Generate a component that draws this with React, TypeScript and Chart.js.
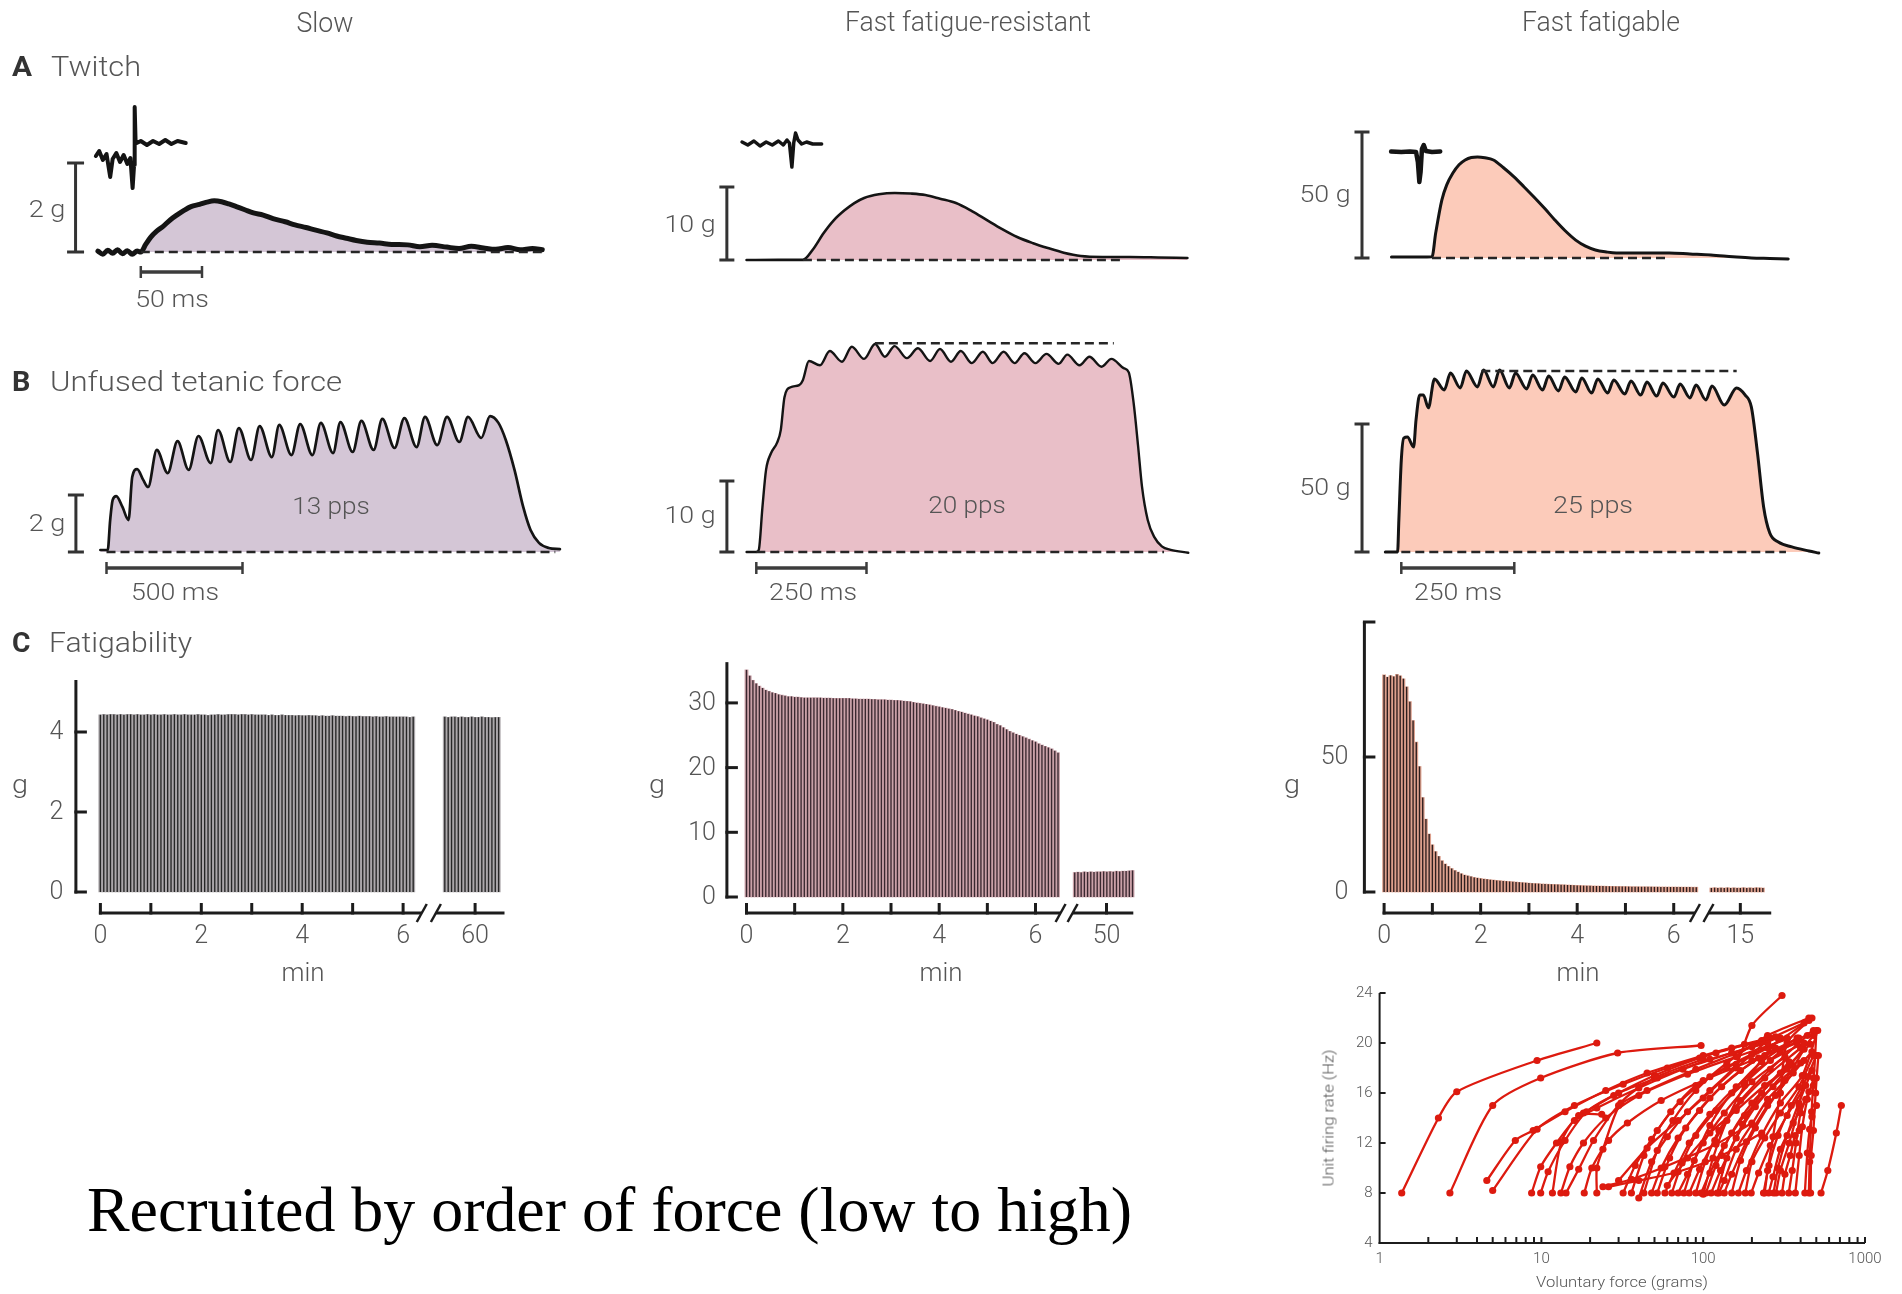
import React, { useEffect, useRef } from "react";
import { Chart, registerables } from "chart.js";

Chart.register(...registerables);

const W = 1902;
const H = 1294;

/* ============================ TEXT ============================ */
const columnTitles = ["Slow", "Fast fatigue-resistant", "Fast fatigable"];
const rowLetters = ["A", "B", "C"];
const rowTitles = ["Twitch", "Unfused tetanic force", "Fatigability"];
const forceScaleLabels = ["2 g", "10 g", "50 g"];
const twitchTimeLabel = "50 ms";
const tetanusTimeLabels = ["500 ms", "250 ms", "250 ms"];
const stimulationRates = ["13 pps", "20 pps", "25 pps"];
const fatigueYTitle = "g";
const fatigueXTitle = "min";
const caption = "Recruited by order of force (low to high)";
const recruitXTitle = "Voluntary force (grams)";
const recruitYTitle = "Unit firing rate (Hz)";

/* ===================== CALIBRATION BARS ===================== */
const forceScaleG = [2, 10, 50];
const twitchScaleMs = 50;
const tetanusScaleMs = [500, 250, 250];

/* ================= A: twitch traces [ms, g] ================= */
const twitchSlow = [
  [-35, 0.02], [-31, -0.05], [-27, 0.04], [-23, -0.03], [-19, 0.05], [-15, -0.04], [-11, 0.03], [-7, -0.05],
  [-3, 0.02], [0, 0.0], [4, 0.17], [8, 0.33], [13, 0.47], [18, 0.57], [24, 0.72], [30, 0.84], [35, 0.93],
  [41, 1.02], [48, 1.07], [54, 1.12], [60, 1.15], [66, 1.13], [72, 1.08], [78, 1.02], [85, 0.95], [92, 0.88],
  [100, 0.83], [108, 0.75], [118, 0.68], [126, 0.61], [135, 0.55], [143, 0.49], [152, 0.43], [160, 0.36],
  [168, 0.31], [176, 0.26], [185, 0.22], [195, 0.2], [205, 0.17], [218, 0.16], [228, 0.12], [238, 0.15],
  [250, 0.11], [260, 0.08], [270, 0.13], [280, 0.09], [290, 0.06], [300, 0.1], [310, 0.05], [320, 0.08], [328, 0.05],
];
const twitchFastResistant = [
  [-46, 0], [-20, 0.02], [0, 0.02], [8, 1.4], [17, 3.7], [25, 5.4], [34, 6.8], [42, 7.8], [50, 8.5], [62, 9.0],
  [75, 9.18], [88, 9.1], [100, 8.9], [112, 8.4], [125, 7.8], [138, 6.7], [150, 5.5], [162, 4.3], [175, 3.15],
  [188, 2.3], [200, 1.64], [213, 1.0], [227, 0.55], [245, 0.42], [267, 0.41], [290, 0.35], [314, 0.27],
];
const twitchFastFatigable = [
  [-33, 0.4], [-10, 0.4], [0, 0.5], [3, 9.9], [8, 23], [12, 29], [17, 33.7], [22, 37], [27, 38.9], [32, 39.9],
  [37, 40.1], [43, 39.8], [50, 38.9], [58, 35.9], [67, 32.1], [75, 28.2], [83, 24.2], [92, 19.5], [100, 15.1],
  [108, 11.0], [117, 7.1], [125, 4.7], [133, 3.2], [142, 2.4], [150, 2.0], [170, 2.0], [193, 2.0], [210, 1.6],
  [227, 1.2], [245, 0.5], [260, 0], [275, -0.2], [290, -0.4],
];

/* ========== A insets: motor-unit action potentials [ms, a.u.] ========== */
const apSlow = [
  [-36.7, -0.6], [-34, -0.1], [-31, -1.0], [-28, -0.4], [-25, -2.7], [-23, -0.9], [-20, -0.3], [-17, -1.2],
  [-14, -0.5], [-11, -1.4], [-8.5, -0.8], [-6.7, -3.8], [-5.5, -1.5], [-5, 4.3], [-4.3, 1.0], [-3.3, 0.7],
  [0, 0.9], [5, 0.5], [10, 0.9], [15, 0.6], [20, 1.0], [25, 0.6], [30, 0.9], [36.7, 0.7],
];
const apFastResistant = [
  [-49.7, 0.1], [-45, -0.2], [-40, 0.2], [-35, -0.3], [-30, 0.1], [-25, -0.2], [-20, 0.2], [-16, -0.2],
  [-13, 0.3], [-11, 0.0], [-9, -2.4], [-7.5, 0.0], [-6, 1.0], [-4, 0.3], [-1, -0.1], [3, 0.1], [8, -0.1], [15.3, -0.1],
];
const apFastFatigable = [
  [-33.3, 0.05], [-25, 0.0], [-18, 0.05], [-13, 0.0], [-11.5, -1.0], [-10.3, -3.0], [-9.3, -2.0], [-8.2, 0.3],
  [-6.7, 0.7], [-5, 0.1], [0, 0], [6.7, 0.05],
];

/* ============== B: unfused tetanus traces [ms, g] ============== */
const tetanusSlow = [
  [-22.5, 0.07], [4.5, 0.07], [13.5, 1.12], [22.5, 1.82], [36, 1.96], [58.6, 1.58], [81, 1.12], [94.6, 2.63],
  [112.6, 2.91], [135, 2.53], [153, 2.28], [184.7, 3.58], [225, 2.77], [261, 3.89], [302, 2.88], [338, 4.07],
  [383, 3.12], [410, 4.28], [455, 3.16], [486.5, 4.35], [531.5, 3.23], [563, 4.42], [608, 3.33], [635, 4.46],
  [680, 3.4], [712, 4.49], [757, 3.4], [788, 4.53], [833, 3.47], [860, 4.56], [905, 3.51], [937, 4.6],
  [982, 3.58], [1014, 4.67], [1059, 3.65], [1095, 4.7], [1140, 3.68], [1171, 4.74], [1216, 3.75], [1252, 4.74],
  [1297, 3.86], [1329, 4.74], [1378, 4.0], [1410, 4.77], [1441, 4.53], [1468, 3.93], [1500, 2.88], [1532, 1.58],
  [1559, 0.77], [1590, 0.32], [1626, 0.14], [1667, 0.1],
];
const tetanusFastResistant = [
  [-22, 0], [0, 0], [5.6, 0.3], [13.9, 6.3], [22.2, 11.6], [33.3, 13.9], [47.2, 15.4], [55.6, 17.2], [63.9, 21.8],
  [77.8, 23.2], [97.2, 23.5], [105.6, 24.2], [119.4, 26.9], [144.4, 26.3], [166.7, 28.3], [194.4, 26.8],
  [216.7, 28.9], [244.4, 27.2], [269.4, 29.3], [291.7, 27.5], [313.9, 29.0], [341.7, 27.3], [366.7, 28.7],
  [394.4, 26.9], [416.7, 28.6], [441.7, 26.8], [463.9, 28.3], [488.9, 26.6], [513.9, 28.2], [536.1, 26.6],
  [561.1, 28.2], [586.1, 26.6], [608.3, 28.0], [633.3, 26.6], [658.3, 27.9], [686.1, 26.5], [705.6, 27.8],
  [733.3, 26.3], [755.6, 27.5], [783.3, 26.1], [805.6, 27.2], [833.3, 25.9], [845, 25.3], [856, 21.0],
  [866, 15.0], [875, 9.2], [888, 4.5], [903, 2.1], [920, 0.8], [940, 0.3], [980, -0.1],
];
const tetanusFastFatigable = [
  [-35.3, 0], [-8.2, 0], [-5.4, 12.5], [0, 35.9], [5.4, 44.5], [13.6, 44.9], [27.2, 41.0], [32.6, 51.6],
  [40.8, 61.3], [48.9, 61.3], [59.8, 56.3], [73.4, 67.6], [95.1, 63.3], [108.7, 69.9], [130.4, 64.1], [144, 70.7],
  [168.5, 64.5], [182, 71.1], [203.8, 64.5], [217.4, 71.1], [239.1, 64.1], [252.7, 69.9], [277.1, 63.7],
  [290.7, 69.1], [312.5, 63.3], [326, 68.75], [347.8, 62.9], [361.4, 68.4], [385.8, 62.5], [399.4, 68.0],
  [421.1, 62.1], [434.7, 67.6], [456.5, 62.1], [470.1, 67.2], [494.5, 61.7], [508.1, 66.8], [529.8, 61.3],
  [543.4, 66.4], [565.2, 60.9], [578.7, 66.0], [603.2, 60.5], [616.8, 65.6], [638.5, 60.2], [652.1, 65.2],
  [673.9, 59.4], [687.4, 64.8], [714.6, 57.4], [741.8, 64.1], [760.9, 61.3], [774.5, 56.6], [788, 38.7],
  [801.6, 17.6], [815.2, 7.4], [834.2, 3.9], [864, 2.0], [902, 0.4], [923.7, -0.4],
];
const tetanusPeakFR = 29.4;
const tetanusPeakFF = 70.7;
const tetanusPeakSpanFR = [269, 811];
const tetanusPeakSpanFF = [177, 742];

/* ============== C: fatigue test, peak force per contraction (g) ============== */
const fatigueInterval = 1 / 15; // minutes between plotted contractions
const fatigueSlowEarly = [
  4.43, 4.44, 4.43, 4.44, 4.44, 4.43, 4.44, 4.43, 4.44, 4.44,
  4.43, 4.44, 4.43, 4.43, 4.44, 4.43, 4.44, 4.43, 4.43, 4.44,
  4.43, 4.43, 4.44, 4.43, 4.43, 4.44, 4.43, 4.43, 4.43, 4.44,
  4.43, 4.43, 4.42, 4.43, 4.43, 4.44, 4.43, 4.43, 4.44, 4.44,
  4.44, 4.43, 4.44, 4.44, 4.43, 4.44, 4.43, 4.43, 4.43, 4.43,
  4.42, 4.43, 4.42, 4.42, 4.43, 4.42, 4.42, 4.42, 4.41, 4.42,
  4.41, 4.41, 4.42, 4.41, 4.41, 4.4, 4.41, 4.4, 4.4, 4.41,
  4.4, 4.4, 4.4, 4.39, 4.4, 4.39, 4.39, 4.4, 4.39, 4.39,
  4.39, 4.38, 4.39, 4.38, 4.38, 4.39, 4.38, 4.38, 4.38, 4.38,
  4.38, 4.38, 4.37, 4.38,
];
const fatigueSlowLate = [4.38, 4.37, 4.38, 4.38, 4.37, 4.38, 4.37, 4.37, 4.38, 4.37, 4.37, 4.38, 4.37, 4.37, 4.36, 4.37, 4.37];
const fatigueFREarly = [
  35.1, 34.2, 33.5, 33.0, 32.6, 32.3, 32.0, 31.8, 31.6, 31.5,
  31.3, 31.2, 31.1, 31.0, 31.0, 30.9, 30.9, 30.85, 30.8, 30.8,
  30.8, 30.8, 30.8, 30.8, 30.75, 30.75, 30.75, 30.7, 30.7, 30.7,
  30.7, 30.7, 30.7, 30.65, 30.65, 30.6, 30.6, 30.6, 30.6, 30.55,
  30.55, 30.5, 30.5, 30.5, 30.45, 30.45, 30.4, 30.4, 30.35, 30.3,
  30.25, 30.2, 30.1, 30.0, 29.95, 29.85, 29.8, 29.7, 29.6, 29.5,
  29.4, 29.3, 29.2, 29.1, 29.0, 28.85, 28.7, 28.6, 28.45, 28.3,
  28.15, 28.0, 27.9, 27.7, 27.55, 27.4, 27.2, 27.0, 26.7, 26.5,
  26.2, 25.9, 25.6, 25.4, 25.2, 25.0, 24.8, 24.6, 24.4, 24.2,
  24.0, 23.7, 23.5, 23.3, 23.1, 22.9, 22.6, 22.3,
];
const fatigueFRLate = [3.8, 3.85, 3.8, 3.9, 3.85, 3.9, 3.85, 3.9, 3.9, 3.95, 3.9, 3.95, 3.9, 4.0, 3.95, 4.0, 4.0, 4.05, 4.1];
const fatigueFFEarly = [
  80.4, 79.6, 80.2, 79.8, 80.6, 80.1, 79.0, 76.0, 70.5, 63.5,
  55.5, 46.5, 35.0, 27.0, 21.5, 17.5, 15.0, 13.2, 11.6, 10.4,
  9.5, 8.7, 8.0, 7.4, 6.8, 6.3, 6.0, 5.7, 5.4, 5.2,
  5.0, 4.85, 4.7, 4.55, 4.45, 4.3, 4.2, 4.1, 4.0, 3.9,
  3.8, 3.7, 3.6, 3.5, 3.4, 3.3, 3.2, 3.15, 3.1, 3.0,
  2.95, 2.9, 2.85, 2.8, 2.75, 2.7, 2.65, 2.6, 2.55, 2.5,
  2.45, 2.4, 2.35, 2.3, 2.28, 2.25, 2.22, 2.2, 2.18, 2.15,
  2.12, 2.1, 2.08, 2.06, 2.05, 2.03, 2.0, 1.98, 1.97, 1.95,
  1.94, 1.93, 1.92, 1.9, 1.9, 1.89, 1.88, 1.87, 1.86, 1.85,
  1.85, 1.84, 1.83, 1.82, 1.82, 1.81, 1.8, 1.8,
];
const fatigueFFLate = [1.5, 1.6, 1.5, 1.55, 1.5, 1.6, 1.5, 1.55, 1.5, 1.5, 1.6, 1.5, 1.55, 1.5, 1.6, 1.55, 1.5];
const fatigueLateStart = [59.4, 49.34, 14.4]; // min, first contraction after the axis break
const fatigueXTicks = [0, 1, 2, 3, 4, 5, 6];
const fatigueXTickLabels = ["0", "", "2", "", "4", "", "6"];
const fatigueLateTicks = [60, 50, 15];
const fatigueYTicks = [[0, 2, 4], [0, 10, 20, 30], [0, 50, 100]];
const fatigueYTickLabels = [["0", "2", "4"], ["0", "10", "20", "30"], ["0", "50", ""]];
const fatigueYTop = [5.3, 36.3, 100];

/* ============ D: firing rate vs voluntary force, one series per unit [g, Hz] ============ */
const recruitmentUnits = [
  [[1.37, 8], [2.31, 14], [3.0, 16.1], [9.4, 18.6], [22, 20]],
  [[2.72, 8], [5.0, 15], [9.9, 17.2], [29.6, 19.2], [97, 19.8]],
  [[4.6, 9], [6.9, 12.2], [8.9, 13], [14, 14.5], [25, 16.2], [45, 17.6], [100, 19.0], [180, 19.9], [280, 20.5]],
  [[5.0, 8.2], [9.4, 13.1], [16, 15.0], [32, 16.7], [60, 18.0], [120, 19.2], [230, 20.2]],
  [[8.7, 8], [9.9, 10.1], [12.4, 12.0], [16, 13.8], [22, 14.8], [40, 16.4], [75, 17.9], [150, 19.2], [290, 20.4]],
  [[9.9, 8], [11, 9.7], [14, 12.2], [19, 14.5], [30, 16.0], [52, 17.2], [110, 18.7], [250, 20.0]],
  [[11.7, 8], [13.3, 12.1], [17, 14.2], [23.6, 14.3]],
  [[13.2, 8], [15, 10.1], [18.2, 12.0], [25, 14.0], [40, 15.8], [80, 17.5], [160, 18.9], [330, 20.3]],
  [[14.2, 8], [17, 9.9], [21, 12.2], [30, 15.0], [45, 16.2], [90, 17.9], [200, 19.7], [420, 21.6]],
  [[18.4, 8], [20.5, 10.0], [26, 12.2], [34, 13.6], [55, 15.4], [100, 17.0], [200, 18.6], [380, 20.0]],
  [[22, 8], [22, 10], [24, 11.5], [31, 15.2], [50, 17.2], [100, 18.7]],
  [[24, 8.5], [36, 9.1], [58, 10.1], [120, 11.9], [200, 13.6]],
  [[32, 8], [38, 10.2], [48, 12.3], [63, 14.5], [90, 16.6], [140, 18.0], [250, 19.6], [450, 21.8]],
  [[36, 8], [43, 11.0], [52, 13.0], [72, 15.3], [110, 17.3], [200, 19.1], [330, 20.4]],
  [[40, 7.6], [48, 10.5], [60, 12.5], [80, 14.5], [110, 16.2], [160, 18.3], [200, 21.4], [307, 23.8]],
  [[43, 8], [52, 11.4], [65, 13.8], [90, 16.2], [140, 18.4], [250, 20.6], [450, 22.0]],
  [[48, 8], [55, 10.0], [70, 12.4], [95, 14.6], [130, 16.5], [220, 18.8], [390, 20.4]],
  [[52, 8], [62, 10.8], [78, 13.2], [110, 15.6], [170, 17.8], [280, 19.6]],
  [[58, 8], [66, 9.6], [82, 12.0], [110, 14.3], [160, 16.5], [260, 18.6], [420, 20.0]],
  [[64, 8], [74, 10.4], [90, 12.6], [120, 14.6], [180, 16.8], [300, 19.3], [480, 21.0]],
  [[70, 8], [80, 9.5], [100, 12.0], [135, 14.4], [200, 16.9], [320, 18.9]],
  [[76, 8], [88, 10.6], [110, 13.4], [150, 16.0], [230, 18.5], [380, 20.4]],
  [[82, 8], [95, 9.9], [118, 12.2], [160, 14.8], [240, 17.2], [400, 19.6]],
  [[90, 8], [103, 10.5], [125, 13.0], [170, 15.4], [260, 17.9], [440, 20.6]],
  [[97, 8], [110, 9.6], [135, 11.8], [180, 14.2], [270, 16.5], [420, 18.6]],
  [[104, 8], [120, 10.2], [150, 12.8], [200, 15.2], [300, 17.6], [460, 19.9]],
  [[112, 8], [128, 9.8], [160, 12.4], [210, 14.9], [330, 17.9], [480, 20.6]],
  [[122, 8], [140, 10.8], [175, 13.5], [230, 16.0], [340, 18.5]],
  [[135, 8], [150, 9.5], [185, 12.1], [250, 15.0], [360, 17.6], [470, 19.3]],
  [[150, 8], [170, 10.6], [210, 13.2], [280, 15.8], [400, 18.4]],
  [[165, 8], [185, 9.8], [230, 12.6], [300, 15.2], [410, 17.4], [510, 21.0]],
  [[182, 8], [200, 10.5], [240, 12.4], [300, 14.4], [390, 16.5], [480, 19.0]],
  [[198, 8], [220, 9.6], [260, 11.8], [330, 14.2], [430, 16.6]],
  [[236, 8], [255, 10.2], [290, 12.6], [350, 15.0], [440, 17.3], [500, 19.0]],
  [[254, 8], [270, 9.3], [300, 11.5], [360, 13.6], [430, 15.5]],
  [[272, 8], [290, 10.0], [330, 12.6], [390, 15.2], [470, 17.8]],
  [[282, 8], [300, 9.8], [340, 12.0], [392, 15.0], [420, 17.4]],
  [[307, 8], [320, 9.5], [345, 11.0], [370, 12.6], [392, 13.0]],
  [[338, 8], [355, 9.8], [375, 12.0], [400, 14.4], [450, 16.1]],
  [[371, 8], [392, 11.0], [410, 13.3], [440, 15.5], [480, 17.2], [501, 21.0]],
  [[425, 8], [440, 11.2], [455, 13.1], [470, 14.1], [501, 15.0]],
  [[461, 8], [465, 11.0], [480, 13.0], [495, 16.0], [515, 19.0]],
  [[450, 8], [455, 10.5], [468, 14.5], [480, 16.6], [500, 17.2]],
  [[535, 8], [589, 9.8], [665, 12.8], [714, 15.0]],
  [[240, 8], [250, 9.8], [270, 12.5], [300, 16.0], [330, 20.0], [470, 22.0]],
  [[125, 8], [135, 9], [160, 11.5], [200, 13.5], [250, 15.5], [320, 17.0], [420, 19.5]],
  [[60, 8.6], [80, 10.8], [110, 12.8], [160, 14.6], [240, 16.6], [360, 18.2]],
  [[30, 9.0], [45, 11.6], [70, 13.8], [100, 15.6], [160, 18.0], [260, 20.4]],
  [[26, 8.5], [40, 9.0], [70, 9.7], [130, 11.0], [230, 12.8]],
  [[100, 7.9], [115, 10.8], [140, 13.8], [180, 16.6], [240, 19.0], [300, 20.4]],
  [[18.2, 14.4], [28, 15.8], [50, 17.4], [95, 18.8], [150, 19.6], [250, 20.2]],
];
const recruitYTicks = [4, 8, 12, 16, 20, 24];
const recruitXTicks = [1, 10, 100, 1000];
const recruitMinorTicks = [2, 3, 4, 5, 6, 7, 8, 9, 10, 20, 30, 40, 50, 60, 70, 80, 90, 100, 200, 300, 400, 500, 600, 700, 800, 900, 1000];

/* ============================ LAYOUT (page px) ============================ */
const LAYOUT = {
  A: [
    { x0: 140.8, kx: 1.224, y0: 252, ky: 44.5, ap0: 150, barT: -53.3, dash: [0, 328], capR: 8.5, lw: 5, apw: 4 },
    { x0: 802.9, kx: 1.2245, y0: 260, ky: 7.3, ap0: 143, barT: -62.1, dash: [0, 260], capR: 7.5, lw: 2.6, apw: 3.5 },
    { x0: 1432, kx: 1.2283, y0: 258, ky: 2.52, ap0: 152, barT: -57, dash: [0, 193], capR: 7.5, lw: 3, apw: 4.5 },
  ],
  twitchTimeBarG: -0.449,
  B: [
    { x0: 106.5, kx: 0.272, y0: 552, ky: 28.5, barT: -112.5, timeBarG: -0.561, dash: [0, 1650], capR: 8, lw: 2.7 },
    { x0: 756.3, kx: 0.4408, y0: 552, ky: 7.1, barT: -66.7, timeBarG: -2.254, dash: [0, 925], capR: 7.5, lw: 2.4 },
    { x0: 1401.3, kx: 0.452, y0: 552, ky: 2.56, barT: -86.9, timeBarG: -6.25, dash: [0, 851], capR: 7.5, lw: 3 },
  ],
  C: [
    { x0: 100.4, kx: 50.45, y0: 892, ky: 40, yAxisPx: 75.9, gap: 12.6, breakU: [6.37, 6.65], lateU: 7.427, endU: 8.01 },
    { x0: 746.5, kx: 48.17, y0: 897, ky: 6.47, yAxisPx: 726.9, gap: 11, breakU: [6.52, 6.77], lateU: 7.474, endU: 8.03 },
    { x0: 1384.1, kx: 48.27, y0: 892, ky: 2.7, yAxisPx: 1364.4, gap: 16, breakU: [6.44, 6.72], lateU: 7.38, endU: 8.02 },
  ],
  cAxisY: 913,
  cTickLabelBase: 943,
  D: { x0: 1379.6, kx: 161.8, y0: 1293, ky: 12.5, xLabelBase: 1263 },
};

const SANS = 'Roboto, "Liberation Sans", Arial, sans-serif';
const SERIF = '"Liberation Serif", "Times New Roman", serif';
const GRAY = "#555";
const AXIS = "#1c1c1c";
const INK = "#141414";
const BAR = "#333";
const FILLS = ["#d4c6d6", "#e9bfc8", "#fccbba"];
const STRIPE = ["#262626", "#3a2830", "#2e1f1f"];
const STRIPE_FILL = ["#aaa6a9", "#c9a0a7", "#dc9f8c"];
const RED = "#dd1a0f";

/* ============================ helpers ============================ */
const pts = (a: number[][]) => a.map(([x, y]) => ({ x, y }));

function linX(p0: number, k: number) {
  return { type: "linear", display: false, bounds: "data", offset: false, min: -p0 / k, max: (W - p0) / k };
}
function linY(p0: number, k: number) {
  return { type: "linear", display: false, bounds: "data", offset: false, min: (p0 - H) / k, max: p0 / k };
}
function logX(p0: number, k: number) {
  return { type: "logarithmic", display: false, bounds: "data", offset: false, min: Math.pow(10, -p0 / k), max: Math.pow(10, (W - p0) / k) };
}

function traceDs(data: number[][], xId: string, yId: string, fill: string, lw: number) {
  return {
    type: "line", data: pts(data), xAxisID: xId, yAxisID: yId, borderColor: INK, borderWidth: lw,
    backgroundColor: fill, fill: "origin", pointRadius: 0, cubicInterpolationMode: "monotone",
    borderJoinStyle: "round", borderCapStyle: "round", order: 6,
  };
}
function plainLine(data: number[][], xId: string, yId: string, lw: number) {
  return {
    type: "line", data: pts(data), xAxisID: xId, yAxisID: yId, borderColor: INK, borderWidth: lw,
    fill: false, pointRadius: 0, tension: 0, borderJoinStyle: "round", borderCapStyle: "round", order: 2,
  };
}
function dashDs(xId: string, yId: string, t0: number, t1: number, g: number) {
  return {
    type: "line", data: [{ x: t0, y: g }, { x: t1, y: g }], xAxisID: xId, yAxisID: yId,
    borderColor: "#262626", borderWidth: 2.5, borderDash: [9, 5], fill: false, pointRadius: 0, order: 3,
  };
}
function vBarDs(xId: string, yId: string, t: number, g: number, capR: number) {
  return {
    type: "line", data: [{ x: t, y: 0 }, { x: t, y: g }], xAxisID: xId, yAxisID: yId,
    borderColor: BAR, borderWidth: 3, fill: false, pointStyle: "line", pointRadius: capR,
    pointBorderWidth: 3, pointBorderColor: BAR, pointRotation: 0, order: 1,
  };
}
function hBarDs(xId: string, yId: string, t0: number, t1: number, g: number) {
  return {
    type: "line", data: [{ x: t0, y: g }, { x: t1, y: g }], xAxisID: xId, yAxisID: yId,
    borderColor: "#3c3c3c", borderWidth: 3.5, fill: false, pointStyle: "line", pointRadius: 6,
    pointBorderWidth: 2.5, pointBorderColor: "#3c3c3c", pointRotation: 90, order: 1,
  };
}

function buildScales() {
  const s: any = {};
  LAYOUT.A.forEach((L, i) => {
    s[`xA${i + 1}`] = linX(L.x0, L.kx);
    s[`yA${i + 1}`] = linY(L.y0, L.ky);
    s[`yP${i + 1}`] = linY(L.ap0, 10);
  });
  LAYOUT.B.forEach((L, i) => {
    s[`xB${i + 1}`] = linX(L.x0, L.kx);
    s[`yB${i + 1}`] = linY(L.y0, L.ky);
  });
  LAYOUT.C.forEach((L, i) => {
    s[`xC${i + 1}s`] = linX(L.x0, L.kx);
    s[`xC${i + 1}f`] = linX(L.x0, L.kx);
    s[`yC${i + 1}`] = linY(L.y0, L.ky);
  });
  s.xD = logX(LAYOUT.D.x0, LAYOUT.D.kx);
  s.yD = linY(LAYOUT.D.y0, LAYOUT.D.ky);
  return s;
}

function buildDatasets() {
  const ds: any[] = [];
  const twitch = [twitchSlow, twitchFastResistant, twitchFastFatigable];
  const aps = [apSlow, apFastResistant, apFastFatigable];
  const tet = [tetanusSlow, tetanusFastResistant, tetanusFastFatigable];

  LAYOUT.A.forEach((L, i) => {
    const x = `xA${i + 1}`, y = `yA${i + 1}`;
    ds.push(traceDs(twitch[i], x, y, FILLS[i], L.lw));
    ds.push(dashDs(x, y, L.dash[0], L.dash[1], 0));
    ds.push(vBarDs(x, y, L.barT, forceScaleG[i], L.capR));
    ds.push(plainLine(aps[i], x, `yP${i + 1}`, L.apw));
  });
  ds.push(hBarDs("xA1", "yA1", 0, twitchScaleMs, LAYOUT.twitchTimeBarG));

  LAYOUT.B.forEach((L, i) => {
    const x = `xB${i + 1}`, y = `yB${i + 1}`;
    ds.push(traceDs(tet[i], x, y, FILLS[i], L.lw));
    ds.push(dashDs(x, y, L.dash[0], L.dash[1], 0));
    ds.push(vBarDs(x, y, L.barT, forceScaleG[i], L.capR));
    ds.push(hBarDs(x, y, 0, tetanusScaleMs[i], L.timeBarG));
  });
  ds.push(dashDs("xB2", "yB2", tetanusPeakSpanFR[0], tetanusPeakSpanFR[1], tetanusPeakFR));
  ds.push(dashDs("xB3", "yB3", tetanusPeakSpanFF[0], tetanusPeakSpanFF[1], tetanusPeakFF));

  const early = [fatigueSlowEarly, fatigueFREarly, fatigueFFEarly];
  const late = [fatigueSlowLate, fatigueFRLate, fatigueFFLate];
  LAYOUT.C.forEach((L, i) => {
    const toU = (t: number) => t - fatigueLateTicks[i] + L.lateU;
    const make = () => [
      ...early[i].map((g, k) => ({ x: k * fatigueInterval, y: g })),
      ...late[i].map((g, k) => ({ x: toU(fatigueLateStart[i] + k * fatigueInterval), y: g })),
    ];
    const stepPx = L.kx * fatigueInterval;
    ds.push({
      type: "bar", data: make(), xAxisID: `xC${i + 1}s`, yAxisID: `yC${i + 1}`, grouped: false,
      backgroundColor: STRIPE[i], barThickness: 1.35, maxBarThickness: 1.35, inflateAmount: 0, borderWidth: 0, order: 0,
    });
    ds.push({
      type: "bar", data: make(), xAxisID: `xC${i + 1}f`, yAxisID: `yC${i + 1}`, grouped: false,
      backgroundColor: STRIPE_FILL[i], barThickness: stepPx, maxBarThickness: stepPx, inflateAmount: 0.3, borderWidth: 0, order: 9,
    });
  });

  recruitmentUnits.forEach((u) => {
    ds.push({
      type: "line", data: pts(u), xAxisID: "xD", yAxisID: "yD", borderColor: RED, borderWidth: 2.3,
      pointRadius: 3.6, pointBackgroundColor: RED, pointBorderWidth: 0, tension: 0.25, fill: false, order: 0,
    });
  });
  return ds;
}

function seg(ctx: any, x1: number, y1: number, x2: number, y2: number) {
  ctx.beginPath();
  ctx.moveTo(x1, y1);
  ctx.lineTo(x2, y2);
  ctx.stroke();
}

const figureAxes = {
  id: "figureAxes",
  afterDatasetsDraw(chart: any) {
    const ctx = chart.ctx;
    ctx.save();
    ctx.lineCap = "butt";
    // C panels
    LAYOUT.C.forEach((L, i) => {
      const xs = chart.scales[`xC${i + 1}s`];
      const ys = chart.scales[`yC${i + 1}`];
      ctx.strokeStyle = AXIS;
      ctx.lineWidth = 3;
      const ax = L.yAxisPx;
      seg(ctx, ax, ys.getPixelForValue(fatigueYTop[i]), ax, ys.getPixelForValue(0) + 1.5);
      ctx.fillStyle = GRAY;
      ctx.font = `300 25px ${SANS}`;
      ctx.textAlign = "right";
      ctx.textBaseline = "middle";
      fatigueYTicks[i].forEach((v, k) => {
        const y = ys.getPixelForValue(v);
        seg(ctx, ax - 1.5, y, ax + 11, y);
        const lab = fatigueYTickLabels[i][k];
        if (lab) ctx.fillText(lab, ax - L.gap, y + 1);
      });
      const ay = LAYOUT.cAxisY;
      const px = (u: number) => xs.getPixelForValue(u);
      seg(ctx, px(0) - 1.5, ay, px(L.breakU[0]), ay);
      seg(ctx, px(L.breakU[1]), ay, px(L.endU), ay);
      ctx.lineWidth = 2.5;
      L.breakU.forEach((u) => seg(ctx, px(u) - 5, ay + 9, px(u) + 5, ay - 9));
      ctx.lineWidth = 3;
      ctx.textAlign = "center";
      ctx.textBaseline = "alphabetic";
      const tickU = [...fatigueXTicks, L.lateU];
      const tickLab = [...fatigueXTickLabels, String(fatigueLateTicks[i])];
      tickU.forEach((u, k) => {
        const x = px(u);
        seg(ctx, x, ay + 1.5, x, ay - 10);
        if (tickLab[k]) ctx.fillText(tickLab[k], x, LAYOUT.cTickLabelBase);
      });
    });
    // D panel
    const xs = chart.scales.xD;
    const ys = chart.scales.yD;
    const ax = xs.getPixelForValue(1);
    const ay = ys.getPixelForValue(4);
    ctx.strokeStyle = AXIS;
    ctx.lineWidth = 2;
    seg(ctx, ax, ys.getPixelForValue(24), ax, ay + 1);
    seg(ctx, ax - 1, ay, xs.getPixelForValue(1000), ay);
    ctx.font = `300 15px ${SANS}`;
    ctx.fillStyle = GRAY;
    ctx.textAlign = "right";
    ctx.textBaseline = "middle";
    recruitYTicks.forEach((v) => {
      const y = ys.getPixelForValue(v);
      seg(ctx, ax, y, ax + 6, y);
      ctx.fillText(String(v), ax - 7, y + 0.5);
    });
    recruitMinorTicks.forEach((v) => {
      const x = xs.getPixelForValue(v);
      seg(ctx, x, ay, x, ay - 6);
    });
    ctx.textAlign = "center";
    ctx.textBaseline = "alphabetic";
    recruitXTicks.forEach((v) => ctx.fillText(String(v), xs.getPixelForValue(v), LAYOUT.D.xLabelBase));
    ctx.restore();
  },
};

/* ============================ HTML labels ============================ */
let measureCtx: any = null;
function textWidth(text: string, font: string) {
  if (!measureCtx) measureCtx = document.createElement("canvas").getContext("2d");
  measureCtx.font = font;
  return measureCtx.measureText(text).width || 1;
}

const LABELS: any[] = [
  { text: columnTitles[0], x: 324.5, y: 33, size: 27, align: "center", width: 57 },
  { text: columnTitles[1], x: 968, y: 32, size: 27, align: "center", width: 246 },
  { text: columnTitles[2], x: 1601, y: 32, size: 27, align: "center", width: 158 },
  { text: rowLetters[0], x: 12, y: 77, size: 27, align: "left", width: 20, weight: 700, color: "#333" },
  { text: rowTitles[0], x: 51, y: 77, size: 27, align: "left", width: 90 },
  { text: rowLetters[1], x: 12, y: 392, size: 27, align: "left", width: 18.4, weight: 700, color: "#333" },
  { text: rowTitles[1], x: 49.5, y: 392, size: 27, align: "left", width: 292 },
  { text: rowLetters[2], x: 12, y: 653, size: 27, align: "left", width: 18.4, weight: 700, color: "#333" },
  { text: rowTitles[2], x: 49, y: 653, size: 27, align: "left", width: 143 },
  { text: forceScaleLabels[0], x: 47, y: 217, size: 24, align: "center", width: 36.7 },
  { text: forceScaleLabels[1], x: 690, y: 232, size: 24, align: "center", width: 51 },
  { text: forceScaleLabels[2], x: 1324.5, y: 202, size: 24, align: "center", width: 51 },
  { text: twitchTimeLabel, x: 171.5, y: 307, size: 24, align: "center", width: 73.5 },
  { text: forceScaleLabels[0], x: 47, y: 531, size: 24, align: "center", width: 36.7 },
  { text: forceScaleLabels[1], x: 690, y: 523, size: 24, align: "center", width: 51 },
  { text: forceScaleLabels[2], x: 1324.5, y: 495, size: 24, align: "center", width: 51 },
  { text: tetanusTimeLabels[0], x: 174.5, y: 600, size: 24, align: "center", width: 88 },
  { text: tetanusTimeLabels[1], x: 812.5, y: 600, size: 24, align: "center", width: 88 },
  { text: tetanusTimeLabels[2], x: 1457.5, y: 600, size: 24, align: "center", width: 88 },
  { text: stimulationRates[0], x: 330.6, y: 514, size: 24, align: "center", width: 77.6 },
  { text: stimulationRates[1], x: 966.5, y: 513, size: 24, align: "center", width: 77.5 },
  { text: stimulationRates[2], x: 1592.6, y: 513, size: 24, align: "center", width: 80 },
  { text: fatigueYTitle, x: 20.4, y: 793, size: 25, align: "center", width: 16 },
  { text: fatigueYTitle, x: 657, y: 793, size: 25, align: "center", width: 16 },
  { text: fatigueYTitle, x: 1291.8, y: 793, size: 25, align: "center", width: 16 },
  { text: fatigueXTitle, x: 303, y: 981, size: 25, align: "center", width: 43 },
  { text: fatigueXTitle, x: 941, y: 981, size: 25, align: "center", width: 43 },
  { text: fatigueXTitle, x: 1578.3, y: 981, size: 25, align: "center", width: 43 },
  { text: recruitXTitle, x: 1622, y: 1288, size: 15, align: "center", width: 172 },
  { text: recruitYTitle, x: 1329, y: 1118, size: 15, rotate: -90, width: 137 },
  { text: caption, x: 87, y: 1232, size: 63, align: "left", width: 1045, family: SERIF, color: "#000", asc: 0.8375, weight: 400 },
];

function Label({ l }: { l: any }) {
  const family = l.family || SANS;
  const weight = l.weight || 300;
  const natural = textWidth(l.text, `${weight} ${l.size}px ${family}`);
  const sx = l.width ? l.width / natural : 1;
  const style: any = {
    position: "absolute",
    whiteSpace: "nowrap",
    fontFamily: family,
    fontSize: l.size,
    fontWeight: weight,
    lineHeight: `${l.size}px`,
    color: l.color || GRAY,
    margin: 0,
    padding: 0,
  };
  if (l.rotate) {
    style.left = l.x;
    style.top = l.y;
    style.transform = `translate(-50%, -50%) rotate(${l.rotate}deg) scaleX(${sx})`;
  } else {
    const asc = l.asc || 0.842;
    style.left = l.x;
    style.top = l.y - asc * l.size;
    const shift = l.align === "center" ? -50 : l.align === "right" ? -100 : 0;
    style.transform = `translateX(${shift}%) scaleX(${sx})`;
    style.transformOrigin = l.align === "center" ? "50% 50%" : l.align === "right" ? "100% 50%" : "0% 50%";
  }
  return <div style={style}>{l.text}</div>;
}

export default function App() {
  const ref = useRef<HTMLCanvasElement>(null);
  useEffect(() => {
    if (!ref.current) return;
    const chart = new Chart(ref.current, {
      type: "line",
      data: { datasets: buildDatasets() },
      options: {
        responsive: false,
        maintainAspectRatio: false,
        animation: false,
        devicePixelRatio: 1,
        events: [],
        layout: { padding: 0, autoPadding: false },
        plugins: { legend: { display: false }, tooltip: { enabled: false }, title: { display: false } },
        elements: { point: { radius: 0 } },
        scales: buildScales(),
      } as any,
      plugins: [figureAxes as any],
    } as any);
    return () => chart.destroy();
  }, []);
  return (
    <div style={{ position: "absolute", left: 0, top: 0, width: W, height: H, overflow: "hidden", background: "#fff" }}>
      <canvas ref={ref} width={W} height={H} style={{ position: "absolute", left: 0, top: 0, width: W, height: H }} />
      {LABELS.map((l, i) => (
        <Label key={i} l={l} />
      ))}
    </div>
  );
}
